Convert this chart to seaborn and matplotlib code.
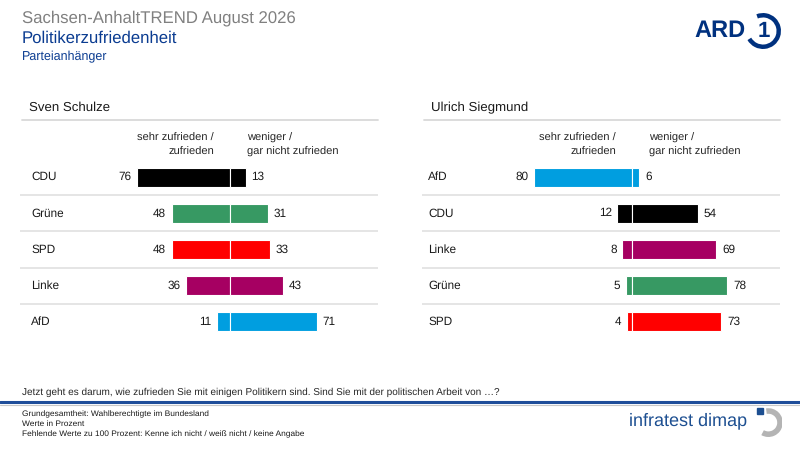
import pandas as pd
import matplotlib.pyplot as plt
import seaborn as sns
from matplotlib.lines import Line2D
from matplotlib.patches import Arc, Rectangle

# data
left_name = "Sven Schulze"
left_parties = ["CDU", "Grüne", "SPD", "Linke", "AfD"]
left_zufrieden = [76, 48, 48, 36, 11]
left_unzufrieden = [13, 31, 33, 43, 71]

right_name = "Ulrich Siegmund"
right_parties = ["AfD", "CDU", "Linke", "Grüne", "SPD"]
right_zufrieden = [80, 12, 8, 5, 4]
right_unzufrieden = [6, 54, 69, 78, 73]

party_colors = {"CDU": "#000000", "Grüne": "#379963", "SPD": "#ff0000",
                "Linke": "#a60062", "AfD": "#009ee0"}

sns.set_theme(style="white")
plt.rcParams["font.family"] = ["Liberation Sans", "DejaVu Sans"]
plt.rcParams["text.hinting"] = "no_hinting"

W, H = 800, 450
fig = plt.figure(figsize=(8, 4.5), dpi=100)


def fx(px):
    return px / W


def fy(py):
    return 1 - py / H


blue = "#0b3c91"

# header
fig.text(fx(22), fy(18), "Sachsen-AnhaltTREND August 2026", color="#808080",
         fontsize=12.1, va="center")
fig.text(fx(22), fy(38), "Politikerzufriedenheit", color=blue, fontsize=12.1, va="center")
fig.text(fx(22), fy(57), "Parteianhänger", color=blue, fontsize=9, va="center")

# ARD logo
fig.text(fx(694), fy(31), "ARD", color="#00317f", fontsize=17, fontweight="bold",
         va="center", ha="left")
logo_ax = fig.add_axes([fx(745), fy(49), 36 / W, 36 / H])
logo_ax.set_xlim(-1, 1)
logo_ax.set_ylim(-1, 1)
logo_ax.set_aspect("equal")
logo_ax.axis("off")
logo_ax.add_patch(Arc((0, 0), 1.75, 1.75, theta1=-150, theta2=112, color="#00317f", lw=3.2))
logo_ax.text(0.02, -0.02, "1", color="#00317f", fontsize=16, fontweight="bold",
             ha="center", va="center")


def panel(x0, name, parties, zuf, unzuf, lab_x):
    ax = fig.add_axes([fx(x0), fy(340), 358 / W, 181 / H])
    df = pd.DataFrame({"party": parties, "zuf": [-v for v in zuf], "unzuf": unzuf})
    pal = [party_colors[p] for p in parties]
    for col in ["zuf", "unzuf"]:
        sns.barplot(data=df, x=col, y="party", hue="party", palette=pal, orient="h",
                    width=0.52, saturation=1, edgecolor="white", linewidth=0.8,
                    legend=False, ax=ax)
    for c in ax.containers:
        ax.bar_label(c, fmt=lambda v: f"{abs(v):.0f}", padding=4, fontsize=8.5,
                     color="#1a1a1a")
    for y in [0.5, 1.5, 2.5, 3.5]:
        ax.axhline(y, color="#e3e3e3", lw=1.3, zorder=0)
    ax.set_xlim(-172, 121)
    ax.set_ylim(4.5, -0.5)
    ax.set_xlabel("")
    ax.set_ylabel("")
    ax.set_xticks([])
    ax.set_yticks([])
    sns.despine(ax=ax, left=True, bottom=True)
    for i, p in enumerate(parties):
        ax.text(lab_x, i, p, transform=ax.get_yaxis_transform(), fontsize=8.5,
                va="center", color="#1a1a1a")
    # column headers and title
    cx = x0 + 210
    fig.text(fx(cx - 16), fy(138), "sehr zufrieden /", ha="right", va="center", fontsize=8)
    fig.text(fx(cx - 16), fy(152), "zufrieden", ha="right", va="center", fontsize=8)
    fig.text(fx(cx + 17), fy(138), "weniger /", ha="left", va="center", fontsize=8)
    fig.text(fx(cx + 17), fy(152), "gar nicht zufrieden", ha="left", va="center", fontsize=8)
    fig.text(fx(x0 + 9), fy(108), name, fontsize=9.5, va="center", color="#1a1a1a")
    fig.add_artist(Line2D([fx(x0 + 2), fx(x0 + 358)], [fy(120), fy(120)],
                          color="#d9d9d9", lw=1.3))
    return ax


panel(20, left_name, left_parties, left_zufrieden, left_unzufrieden, 0.031)
panel(422, right_name, right_parties, right_zufrieden, right_unzufrieden, 0.017)

# footer
fig.text(fx(22), fy(392), "Jetzt geht es darum, wie zufrieden Sie mit einigen Politikern sind. "
         "Sind Sie mit der politischen Arbeit von …?", fontsize=7.2, va="center")
fig.add_artist(Line2D([0, 1], [fy(402), fy(402)], color="#1f4e9a", lw=2.2))
fig.add_artist(Line2D([0, 1], [fy(404.5), fy(404.5)], color="#c8c8c8", lw=0.8))
notes = ["Grundgesamtheit: Wahlberechtigte im Bundesland", "Werte in Prozent",
         "Fehlende Werte zu 100 Prozent: Kenne ich nicht / weiß nicht / keine Angabe"]
for i, n in enumerate(notes):
    fig.text(fx(22), fy(414 + 10 * i), n, fontsize=6, va="center", color="#1a1a1a")

fig.text(fx(747), fy(421), "infratest dimap", color="#1d4f91", fontsize=13, ha="right",
         va="center")
id_ax = fig.add_axes([fx(750), fy(438), 32 / W, 34 / H])
id_ax.set_xlim(-1, 1)
id_ax.set_ylim(-1.05, 1.05)
id_ax.set_aspect("equal")
id_ax.axis("off")
id_ax.add_patch(Arc((0.15, -0.1), 1.45, 1.45, theta1=-120, theta2=100, color="#b4b4b4", lw=4))
id_ax.add_patch(Rectangle((-0.55, 0.45), 0.38, 0.38, color="#1d4f91"))

fig.savefig("out.png", dpi=100)
